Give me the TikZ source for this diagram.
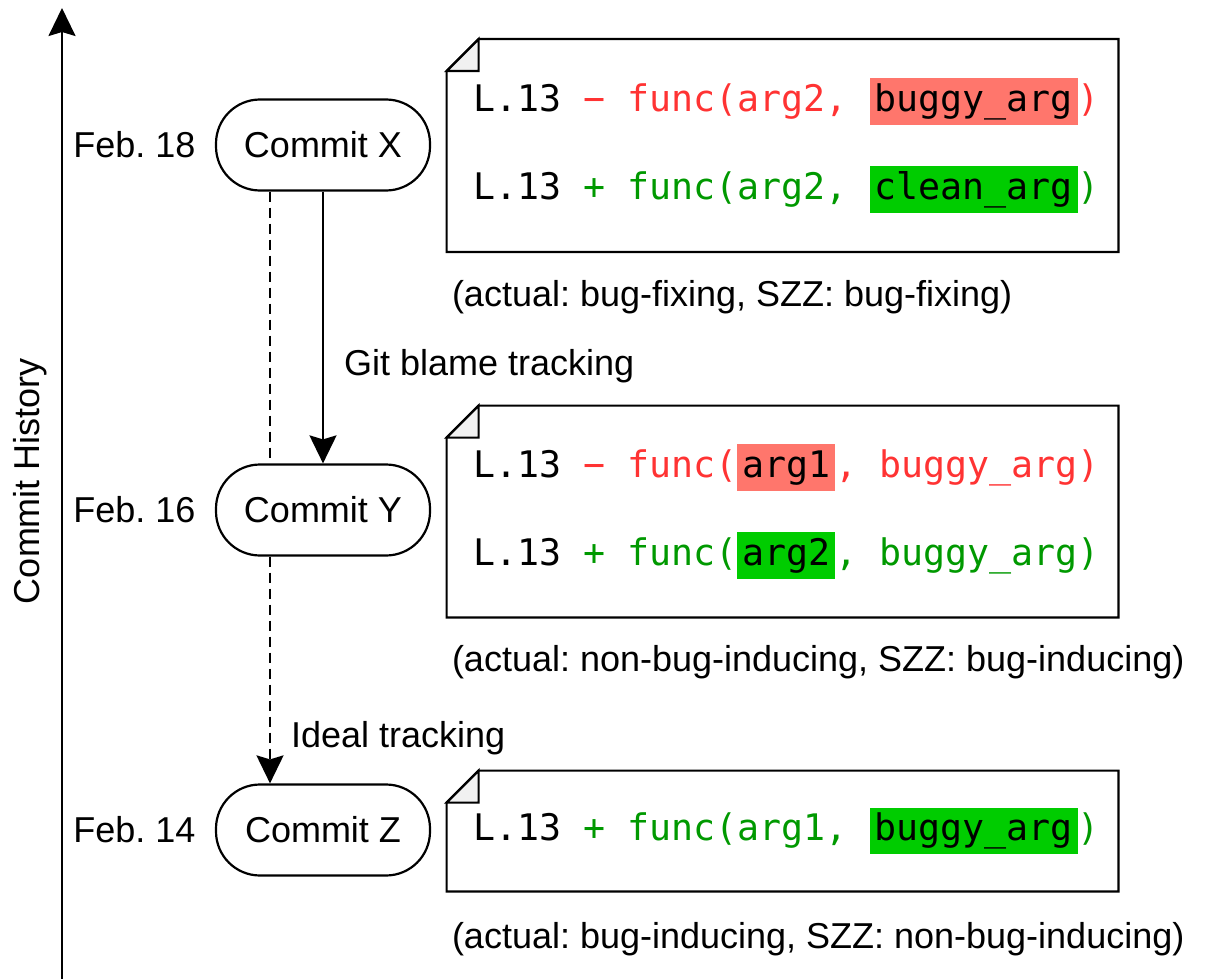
\documentclass[tikz,border=0pt]{standalone}
\usepackage{fontspec}
\setmainfont{Liberation Sans}
\setmonofont{DejaVu Sans Mono}
\usepackage{tikz}
\usetikzlibrary{arrows.meta}
\usetikzlibrary{positioning}

\definecolor{delred}{HTML}{FF3333}
\definecolor{addgreen}{HTML}{009900}
\definecolor{hlred}{HTML}{FF766C}
\definecolor{hlgreen}{HTML}{00CC00}
\definecolor{foldgray}{HTML}{F1F1F1}

% highlighted argument in a diff line
\newcommand{\hlred}[1]{{\setlength{\fboxsep}{0pt}\colorbox{hlred}{\color{black}\hspace{2.4pt}\rule[-6.6pt]{0pt}{23.1pt}#1\hspace{2.4pt}}}}
\newcommand{\hlgreen}[1]{{\setlength{\fboxsep}{0pt}\colorbox{hlgreen}{\color{black}\hspace{2.4pt}\rule[-6.6pt]{0pt}{23.1pt}#1\hspace{2.4pt}}}}

\frenchspacing

\begin{document}
\begin{tikzpicture}[x=0.5pt,y=-0.5pt]
            % Define styles
            \tikzstyle{commit} = [draw,line width=1.1pt,rounded corners=22pt,minimum width=107pt,minimum height=45.5pt,inner sep=0pt,font=\fontsize{18pt}{22pt}\selectfont]
            \tikzstyle{datelbl} = [inner sep=0pt,font=\fontsize{18pt}{22pt}\selectfont]
            \tikzstyle{notebox} = [inner sep=0pt,minimum width=335.5pt]
            \tikzstyle{difftext} = [inner sep=0pt,align=left,font=\fontsize{18.3pt}{44pt}\ttfamily\selectfont]
            \tikzstyle{noteline} = [line width=1.1pt,line join=miter]
            \tikzstyle{caption} = [anchor=west,inner sep=0pt,font=\fontsize{18pt}{22pt}\selectfont]
            \tikzstyle{track} = [line width=1.1pt,-{Stealth[length=14pt,width=13.5pt,inset=2pt]}]
            \tikzstyle{ideal} = [track,dash pattern=on 5pt off 3pt]
            \tikzstyle{tracklbl} = [anchor=west,inner sep=0pt,xshift=10pt,font=\fontsize{18pt}{22pt}\selectfont]
            % Canvas
            \fill[white] (0,0) rectangle (1205,979);
            \useasboundingbox (0,0) rectangle (1205,979);
            % Time axis
                \coordinate (axbot) at (62,979);
                \coordinate (axtop) at (62,8);
                \draw[track] (axbot) -- (axtop);
                \node (hist) at (30,481) [rotate=90,font=\fontsize{18pt}{22pt}\selectfont] {Commit History};
            % Commits
                \node (cX) at (323,145) [commit] {Commit X};
                \node (cY) at (323,510) [commit] {Commit Y};
                \node (cZ) at (323,830) [commit] {Commit Z};
            % Dates
                \node (dX) [datelbl,left=9.5pt of cX] {Feb. 18};
                \node (dY) [datelbl,left=9.5pt of cY] {Feb. 16};
                \node (dZ) [datelbl,left=9.5pt of cZ] {Feb. 14};
            % Diff notes
                % Frames
                \node (n1) at (782.5,145.5) [notebox,minimum height=106pt] {};
                \node (n2) at (782.5,511.5) [notebox,minimum height=105.5pt] {};
                \node (n3) at (782.5,831) [notebox,minimum height=60pt] {};
                % Dog-eared outlines
                \foreach \n in {n1,n2,n3}{
                    \draw[noteline] ([yshift=-16pt]\n.north west) -- ([xshift=16pt]\n.north west) -- (\n.north east) -- (\n.south east) -- (\n.south west) -- cycle;
                    \filldraw[noteline,fill=foldgray] ([yshift=-16pt]\n.north west) -- ([xshift=16pt]\n.north west) -- ([shift={(16pt,-16pt)}]\n.north west) -- cycle;
                }
                % Diff lines
                \node (t1) [difftext,right=13pt of n1.west] {L.13 {\color{delred}− func(arg2, \hlred{buggy\_arg})}\\L.13 {\color{addgreen}+ func(arg2, \hlgreen{clean\_arg})}};
                \node (t2) [difftext,right=13pt of n2.west] {L.13 {\color{delred}− func(\hlred{arg1}, buggy\_arg)}\\L.13 {\color{addgreen}+ func(\hlgreen{arg2}, buggy\_arg)}};
                \node (t3) [difftext,right=13pt of n3.west] {L.13 {\color{addgreen}+ func(arg1, \hlgreen{buggy\_arg})}};
            % Captions
                \node (cap1) at ([xshift=2.5pt,yshift=-22.5pt]n1.south west) [caption] {(actual: bug-fixing, SZZ: bug-fixing)};
                \node (cap2) at ([xshift=2.5pt,yshift=-22.5pt]n2.south west) [caption] {(actual: non-bug-inducing, SZZ: bug-inducing)};
                \node (cap3) at ([xshift=2.5pt,yshift=-24pt]n3.south west) [caption] {(actual: bug-inducing, SZZ: non-bug-inducing)};
            % Tracking links
                \draw[ideal,-] ([xshift=-26.5pt]cX.south) -- ([xshift=-26.5pt]cY.north);
                \draw[track] (cX) -- (cY) node[tracklbl,pos=.644] (lblame) {Git blame tracking};
                \draw[ideal] ([xshift=-26.5pt]cY.south) -- ([xshift=-26.5pt]cZ.north) node[tracklbl,pos=.8] (lideal) {Ideal tracking};
        \end{tikzpicture}
\end{document}
